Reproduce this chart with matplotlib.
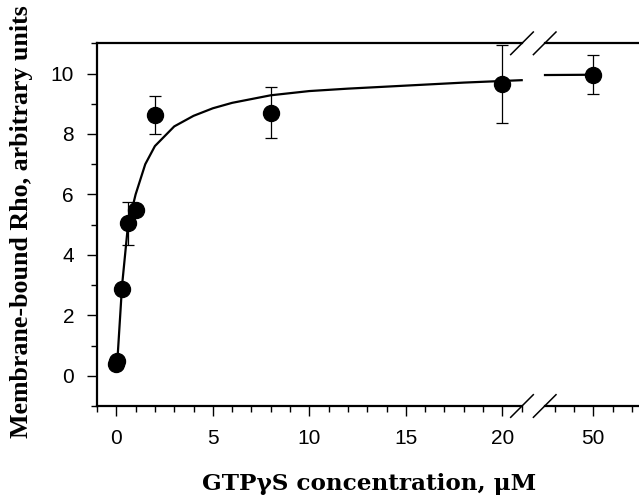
import numpy as np
import matplotlib
matplotlib.use("Agg")
import matplotlib.pyplot as plt
from matplotlib.ticker import MultipleLocator
from matplotlib.lines import Line2D

# measured points (GTPgS uM, membrane-bound Rho)
conc = [0.01, 0.05, 0.3, 0.6, 1.0, 2.0, 8.0, 20.0]
rho = [0.38, 0.5, 2.88, 5.04, 5.47, 8.62, 8.71, 9.64]
rho_err = [0, 0, 0, 0.7, 0, 0.62, 0.84, 1.29]
conc_hi = [50.0]
rho_hi = [9.96]
rho_hi_err = [0.65]

# fitted curve
fit_x = [0.05, 0.3, 0.6, 1.0, 1.5, 2.0, 3.0, 4.0, 5.0, 6.0, 8.0, 10.0, 12.0, 15.0, 18.0, 21.0]
fit_y = [0.45, 3.0, 4.95, 6.0, 7.0, 7.6, 8.25, 8.6, 8.85, 9.03, 9.28, 9.42, 9.5, 9.6, 9.7, 9.78]
fit_x_hi = [47.5, 50.0]
fit_y_hi = [9.95, 9.96]

W, H = 639, 500
fig = plt.figure(figsize=(W / 100, H / 100), dpi=100)

def fx(px):
    return px / W

def fy(py):
    return 1 - py / H

bot, top = fy(406), fy(43.3)
ax1 = fig.add_axes([fx(97), bot, fx(521.7) - fx(97), top - bot])
ax2 = fig.add_axes([fx(545), bot, fx(639) - fx(545), top - bot])

for ax in (ax1, ax2):
    ax.set_ylim(-1, 11)
    for s in ax.spines.values():
        s.set_linewidth(1.6)
    ax.spines["right"].set_visible(False)
    ax.tick_params(which="major", length=7.5, width=1.0, direction="out", pad=9,
                   labelsize=15)
    ax.tick_params(which="minor", length=4.3, width=1.0, direction="out")
    ax.tick_params(top=False, which="both")

ax2.spines["left"].set_visible(False)
ax2.tick_params(left=False, labelleft=False, which="both")

ax1.set_xlim(-1, 21)
ax1.xaxis.set_major_locator(MultipleLocator(5))
ax1.xaxis.set_minor_locator(MultipleLocator(1))
ax1.yaxis.set_major_locator(MultipleLocator(2))
ax1.yaxis.set_minor_locator(MultipleLocator(1))

ax2.set_xlim(47.5, 47.5 + 94 / 19.3)
ax2.xaxis.set_major_locator(MultipleLocator(50))
ax2.xaxis.set_minor_locator(MultipleLocator(1))

for ax in (ax1, ax2):
    for lbl in ax.get_xticklabels() + ax.get_yticklabels():
        lbl.set_fontfamily("Liberation Sans")

ax1.plot(fit_x, fit_y, color="black", lw=1.6, clip_on=False, zorder=2)
ax2.plot(fit_x_hi, fit_y_hi, color="black", lw=1.6, clip_on=False, zorder=2)

ax1.errorbar(conc, rho, yerr=rho_err, fmt="o", color="black", ms=11.5,
             elinewidth=0.9, capsize=4.3, capthick=0.9, clip_on=False, zorder=3)
ax2.errorbar(conc_hi, rho_hi, yerr=rho_hi_err, fmt="o", color="black", ms=11.5,
             elinewidth=0.9, capsize=4.3, capthick=0.9, clip_on=False, zorder=3)

# break marks
d = 11.3
for cx in (522, 544.7):
    for cy in (406, 43.3):
        fig.add_artist(Line2D([fx(cx - d), fx(cx + d)], [fy(cy + d), fy(cy - d)],
                              transform=fig.transFigure, color="black", lw=1.1))

fig.text(fx(22), fy(221.5), "Membrane-bound Rho, arbitrary units", rotation=90,
         ha="center", va="center", fontsize=18.6, fontweight="bold",
         family="Liberation Serif")
fig.text(fx(369.5), fy(484), "GTP\u03b3S concentration, \u03bcM",
         ha="center", va="center", fontsize=16.7, fontweight="bold",
         family="DejaVu Serif")

fig.savefig("out.png", dpi=100)
